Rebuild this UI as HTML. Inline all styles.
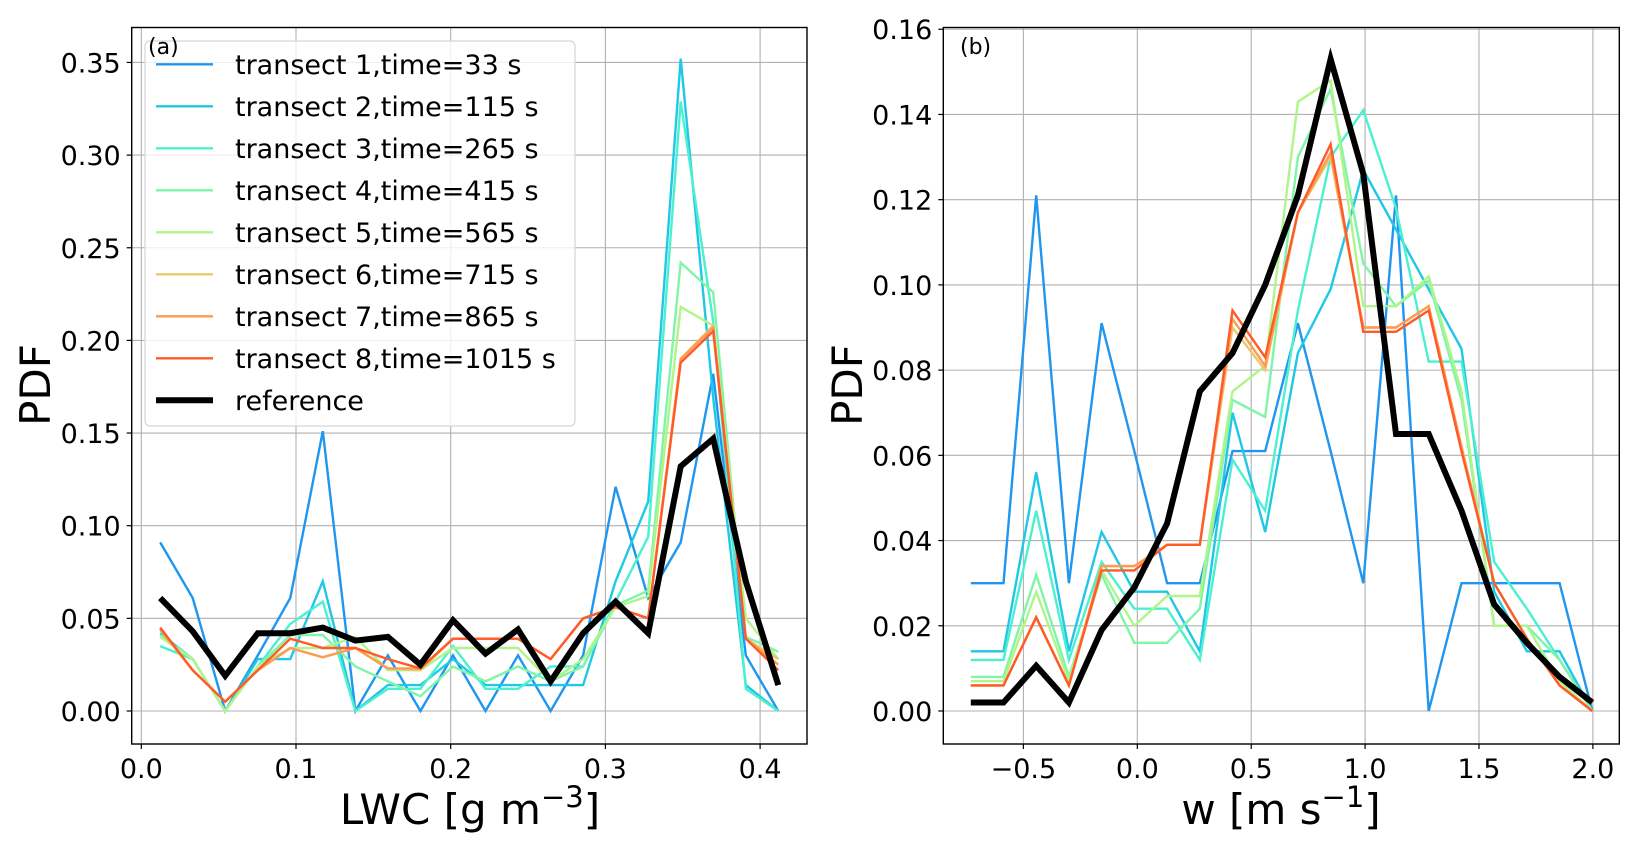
<!DOCTYPE html>
<html><head><meta charset="utf-8">
<style>
html,body{margin:0;padding:0;background:#fff;}
svg{display:block;font-family:"DejaVu Sans","Liberation Sans",sans-serif;}
</style></head>
<body>
<svg id="chart" width="1639" height="853" viewBox="0 0 1639 853" xmlns="http://www.w3.org/2000/svg">
</svg>
<script>
const seriesNames = ["transect 1,time=33 s","transect 2,time=115 s","transect 3,time=265 s","transect 4,time=415 s","transect 5,time=565 s","transect 6,time=715 s","transect 7,time=865 s","transect 8,time=1015 s","reference"];
const seriesColors = ["#1f96f0","#1ec8e6","#4cf0d0","#80f5a8","#b0f58a","#e8c870","#ff9a50","#ff5a28","#000000"];
const lwcStart = 0.0122, lwcStep = 0.02103;
const wStart = -0.731, wStep = 0.1436;
const lwcT1 = [0.091,0.061,0.0,0.030,0.061,0.151,0.0,0.030,0.0,0.030,0.0,0.030,0.0,0.030,0.121,0.061,0.091,0.182,0.030,0.0];
const lwcT2 = [0.042,0.028,0.0,0.028,0.028,0.070,0.0,0.014,0.014,0.028,0.014,0.014,0.014,0.014,0.070,0.113,0.352,0.169,0.014,0.0];
const lwcT3 = [0.035,0.028,0.0,0.024,0.047,0.059,0.0,0.012,0.012,0.035,0.012,0.012,0.024,0.024,0.059,0.094,0.329,0.210,0.012,0.0];
const lwcT4 = [0.041,0.028,0.0,0.024,0.041,0.041,0.024,0.016,0.008,0.024,0.016,0.024,0.016,0.024,0.057,0.065,0.242,0.226,0.040,0.032];
const lwcT5 = [0.040,0.028,0.0,0.024,0.034,0.034,0.040,0.022,0.022,0.034,0.034,0.034,0.016,0.028,0.056,0.062,0.218,0.208,0.050,0.028];
const lwcT6 = [0.044,0.022,0.005,0.022,0.034,0.029,0.034,0.023,0.022,0.039,0.039,0.039,0.028,0.050,0.056,0.050,0.190,0.208,0.039,0.028];
const lwcT7 = [0.044,0.022,0.005,0.022,0.034,0.029,0.034,0.023,0.023,0.039,0.039,0.039,0.028,0.050,0.056,0.050,0.190,0.207,0.039,0.025];
const lwcT8 = [0.045,0.022,0.005,0.022,0.039,0.034,0.034,0.028,0.023,0.039,0.039,0.039,0.028,0.050,0.056,0.050,0.188,0.205,0.039,0.022];
const lwcRef = [0.061,0.043,0.019,0.042,0.042,0.045,0.038,0.040,0.025,0.049,0.031,0.044,0.016,0.042,0.059,0.042,0.132,0.147,0.070,0.014];
const wT1 = [0.030,0.030,0.121,0.030,0.091,0.061,0.030,0.030,0.061,0.061,0.091,0.061,0.030,0.121,0.0,0.030,0.030,0.030,0.030,0.0];
const wT2 = [0.014,0.014,0.056,0.014,0.042,0.028,0.028,0.014,0.070,0.042,0.084,0.099,0.127,0.113,0.099,0.085,0.028,0.014,0.014,0.0];
const wT3 = [0.012,0.012,0.047,0.012,0.035,0.024,0.024,0.012,0.059,0.047,0.094,0.130,0.141,0.118,0.082,0.082,0.035,0.024,0.012,0.0];
const wT4 = [0.008,0.008,0.032,0.008,0.032,0.016,0.016,0.024,0.073,0.069,0.130,0.146,0.105,0.095,0.101,0.073,0.020,0.020,0.012,0.0];
const wT5 = [0.007,0.007,0.028,0.007,0.033,0.020,0.027,0.027,0.075,0.081,0.143,0.148,0.095,0.095,0.102,0.075,0.020,0.020,0.007,0.0];
const wT6 = [0.006,0.006,0.022,0.006,0.034,0.034,0.039,0.039,0.090,0.080,0.117,0.130,0.090,0.090,0.095,0.062,0.030,0.017,0.006,0.0];
const wT7 = [0.006,0.006,0.022,0.006,0.034,0.034,0.039,0.039,0.092,0.081,0.117,0.131,0.090,0.090,0.095,0.062,0.030,0.017,0.006,0.0];
const wT8 = [0.006,0.006,0.022,0.006,0.033,0.033,0.039,0.039,0.094,0.083,0.117,0.133,0.089,0.089,0.094,0.061,0.030,0.017,0.006,0.0];
const wRef = [0.002,0.002,0.0106,0.002,0.019,0.029,0.044,0.075,0.084,0.100,0.121,0.153,0.126,0.065,0.065,0.047,0.025,0.016,0.008,0.002];
const lwcTicks = [0.0,0.1,0.2,0.3,0.4];
const lwcTickLabels = ["0.0","0.1","0.2","0.3","0.4"];
const lwcYTicks = [0,0.05,0.10,0.15,0.20,0.25,0.30,0.35];
const lwcYTickLabels = ["0.00","0.05","0.10","0.15","0.20","0.25","0.30","0.35"];
const wTicks = [-0.5,0.0,0.5,1.0,1.5,2.0];
const wTickLabels = ["\u22120.5","0.0","0.5","1.0","1.5","2.0"];
const wYTicks = [0,0.02,0.04,0.06,0.08,0.10,0.12,0.14,0.16];
const wYTickLabels = ["0.00","0.02","0.04","0.06","0.08","0.10","0.12","0.14","0.16"];

const NS = "http://www.w3.org/2000/svg";
const svg = document.getElementById('chart');
function mk(tag, attrs, parent){const e=document.createElementNS(NS,tag);for(const k in attrs)e.setAttribute(k,attrs[k]);(parent||svg).appendChild(e);return e;}

function panel(cfg){
  const g = mk('g',{});
  
  
  const X = v => cfg.x0 + v*cfg.xs;
  const Y = v => cfg.y0 - v*cfg.ys;
  cfg.xticks.forEach((t,i)=>{
    const gl = mk('line',{x1:X(t),x2:X(t),y1:cfg.top,y2:cfg.bottom,stroke:'#b0b0b0','stroke-width':1.1},g);
    
    
    const tk = mk('line',{x1:X(t),x2:X(t),y1:cfg.bottom,y2:cfg.bottom+5,stroke:'#000','stroke-width':1.2},g);
    
    
    const tl = mk('text',{x:X(t),y:cfg.bottom+34,'font-size':27,'text-anchor':'middle'},g);
    tl.textContent = cfg.xlabels[i];
    
    
  });
  cfg.yticks.forEach((t,i)=>{
    const gl = mk('line',{x1:cfg.left,x2:cfg.right,y1:Y(t),y2:Y(t),stroke:'#b0b0b0','stroke-width':1.1},g);
    
    
    const tk = mk('line',{x1:cfg.left-5,x2:cfg.left,y1:Y(t),y2:Y(t),stroke:'#000','stroke-width':1.2},g);
    
    
    const tl = mk('text',{x:cfg.left-11,y:Y(t)+10,'font-size':27,'text-anchor':'end'},g);
    tl.textContent = cfg.ylabels[i];
    
    
  });
  cfg.series.forEach((arr,si)=>{
    const pts = arr.map((v,i)=>X(cfg.start+i*cfg.step).toFixed(1)+','+Y(v).toFixed(1)).join(' ');
    const isRef = si===8;
    const pl = mk('polyline',{points:pts,fill:'none',stroke:seriesColors[si],'stroke-width':isRef?6:2.4,'stroke-linejoin':'miter'},g);
    
    
  });
  const fr = mk('rect',{x:cfg.left,y:cfg.top,width:cfg.right-cfg.left,height:cfg.bottom-cfg.top,fill:'none',stroke:'#000','stroke-width':1.4},g);
  
  
  return {g,X,Y};
}

const a = panel({name:'lwc-panel',left:131.7,right:807,top:27.5,bottom:744,x0:141.3,xs:1547,y0:711,ys:1853,
  xticks:lwcTicks,xlabels:lwcTickLabels,yticks:lwcYTicks,ylabels:lwcYTickLabels,start:lwcStart,step:lwcStep,
  series:[lwcT1,lwcT2,lwcT3,lwcT4,lwcT5,lwcT6,lwcT7,lwcT8,lwcRef]});
const b = panel({name:'w-panel',left:943.3,right:1619.3,top:27.5,bottom:744,x0:1137.3,xs:227.8,y0:711,ys:4261,
  xticks:wTicks,xlabels:wTickLabels,yticks:wYTicks,ylabels:wYTickLabels,start:wStart,step:wStep,
  series:[wT1,wT2,wT3,wT4,wT5,wT6,wT7,wT8,wRef]});

const yl1 = mk('text',{x:0,y:0,'font-size':42,'text-anchor':'middle',transform:'translate(50,385) rotate(-90)'});
yl1.textContent='PDF';


const yl2 = mk('text',{x:0,y:0,'font-size':42,'text-anchor':'middle',transform:'translate(862,385) rotate(-90)'});
yl2.textContent='PDF';


const xl1 = mk('text',{x:470,y:824,'font-size':42,'text-anchor':'middle'});
xl1.innerHTML='LWC [g m<tspan dy="-17" font-size="29">\u22123</tspan><tspan dy="17">]</tspan>';


const xl2 = mk('text',{x:1281,y:824,'font-size':42,'text-anchor':'middle'});
xl2.innerHTML='w [m s<tspan dy="-17" font-size="29">\u22121</tspan><tspan dy="17">]</tspan>';



const lg = mk('g',{});


const lb = mk('rect',{x:145,y:41,width:430,height:385,rx:5,fill:'#fff','fill-opacity':0.8,stroke:'#d5d5d5','stroke-width':1.2},lg);


seriesNames.forEach((n,i)=>{
  const y = 64.3 + i*42;
  const e = mk('g',{},lg);
  
  
  mk('line',{x1:156,x2:213,y1:y,y2:y,stroke:seriesColors[i],'stroke-width':i===8?6:2.4},e);
  const t = mk('text',{x:235,y:y+9.5,'font-size':27},e);
  t.textContent = n;
});

const pa = mk('text',{x:148,y:54,'font-size':22});
pa.textContent = '(a)';


const pb = mk('text',{x:960,y:54,'font-size':22});
pb.textContent = '(b)';


</script>
</body></html>
